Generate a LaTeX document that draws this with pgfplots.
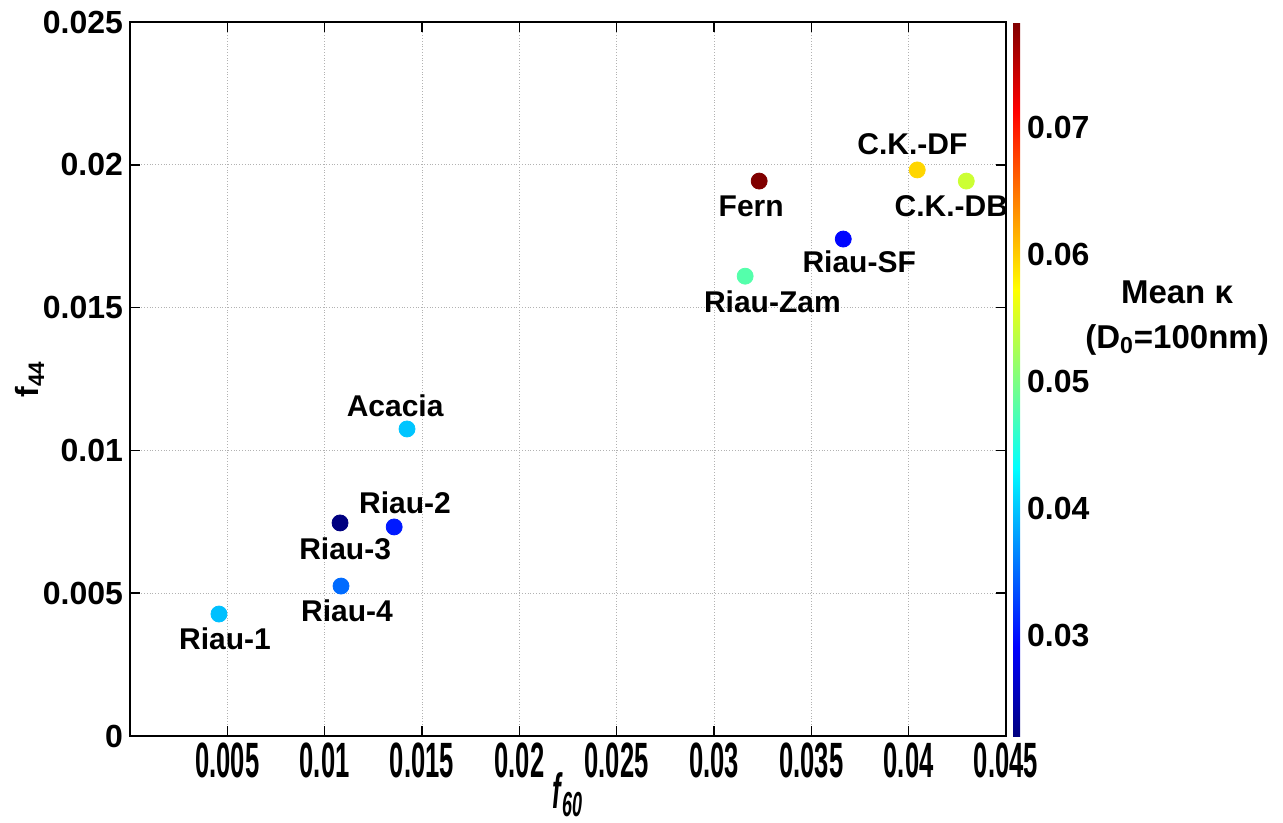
\documentclass[border=0pt]{standalone}
\usepackage{pgfplots}
\pgfplotsset{compat=1.18}
\usepackage{fontspec}
\setmainfont{Liberation Sans}
\usepackage{graphicx}
\newcommand\xt[1]{\scalebox{0.8}[1.55]{#1}}
\begin{document}
\begin{tikzpicture}[font=\fontsize{15}{18}\selectfont\bfseries]
\begin{axis}[
  name=main,
  scale only axis, width=438pt, height=357pt,
  xmin=0, xmax=0.045, ymin=0, ymax=0.025,
  clip=false, scaled ticks=false,
  xtick={0.005,0.01,0.015,0.02,0.025,0.03,0.035,0.04,0.045},
  xticklabels={\xt{0.005},\xt{0.01},\xt{0.015},\xt{0.02},\xt{0.025},\xt{0.03},\xt{0.035},\xt{0.04},\xt{0.045}},
  ytick={0,0.005,0.01,0.015,0.02,0.025},
  yticklabels={0,0.005,0.01,0.015,0.02,0.025},
  grid=major,
  grid style={densely dotted, black!30, line width=0.5pt},
  axis line style={line width=0.8pt},
  tick style={black, line width=0.8pt},
  tick align=inside, major tick length=5pt,
  ticklabel style={font=\fontsize{16}{19}\selectfont\bfseries},
  xlabel={\xt{\textit{f}\textsubscript{\textit{60}}}},
  ylabel={f\textsubscript{44}},
  label style={font=\fontsize{16}{19}\selectfont\bfseries},
  xlabel style={at={(axis description cs:0.5,0)}, anchor=center, yshift=-29.5pt},
  ylabel style={at={(axis description cs:0,0.5)}, anchor=center, yshift=50pt},
  colormap/jet,
  point meta min=0.0221, point meta max=0.0783,
  colorbar,
  colorbar style={
    at={(parent axis.north east)}, anchor=north west, xshift=-5pt,
    scale only axis, width=3.5pt, height=357pt,
    scaled ticks=false,
    xtick=\empty,
    ytick={0.03,0.04,0.05,0.06,0.07},
    yticklabels={0.03,0.04,0.05,0.06,0.07},
    major tick length=0pt,
    axis line style={draw=none},
    yticklabel style={font=\fontsize{16}{19}\selectfont\bfseries},
  },
]
\addplot[scatter, only marks, mark=*, mark size=4pt,
  scatter/use mapped color={draw=mapped color, fill=mapped color},
  point meta=explicit]
  table[meta=k] {
x y k
0.00457 0.00427 0.0397
0.01084 0.00525 0.0350
0.01079 0.00746 0.0221
0.01357 0.00732 0.0305
0.01423 0.01075 0.0400
0.03160 0.01610 0.0478
0.03232 0.01943 0.0783
0.03664 0.01740 0.0294
0.04044 0.01982 0.0595
0.04296 0.01943 0.0544
};
\node at (axis cs:0.00488,0.00340) {Riau-1};
\node at (axis cs:0.01115,0.00438) {Riau-4};
\node at (axis cs:0.01105,0.00655) {Riau-3};
\node at (axis cs:0.01413,0.00816) {Riau-2};
\node at (axis cs:0.01362,0.01155) {Acacia};
\node at (axis cs:0.03300,0.01520) {Riau-Zam};
\node at (axis cs:0.03191,0.01856) {Fern};
\node at (axis cs:0.03746,0.01660) {Riau-SF};
\node at (axis cs:0.04019,0.02073) {C.K.-DF};
\node at (axis cs:0.04219,0.01856) {C.K.-DB};
\end{axis}
\node[align=center, font=\fontsize{16.5}{22.5}\selectfont\bfseries]
  at ([xshift=85.5pt,yshift=-148pt]main.north east) {Mean κ\\(D\textsubscript{0}=100nm)};
\pgfresetboundingbox
\path[use as bounding box] ([shift={(-65pt,-43.5pt)}]main.south west) rectangle ([shift={(138.5pt,11pt)}]main.north east);
\end{tikzpicture}
\end{document}
